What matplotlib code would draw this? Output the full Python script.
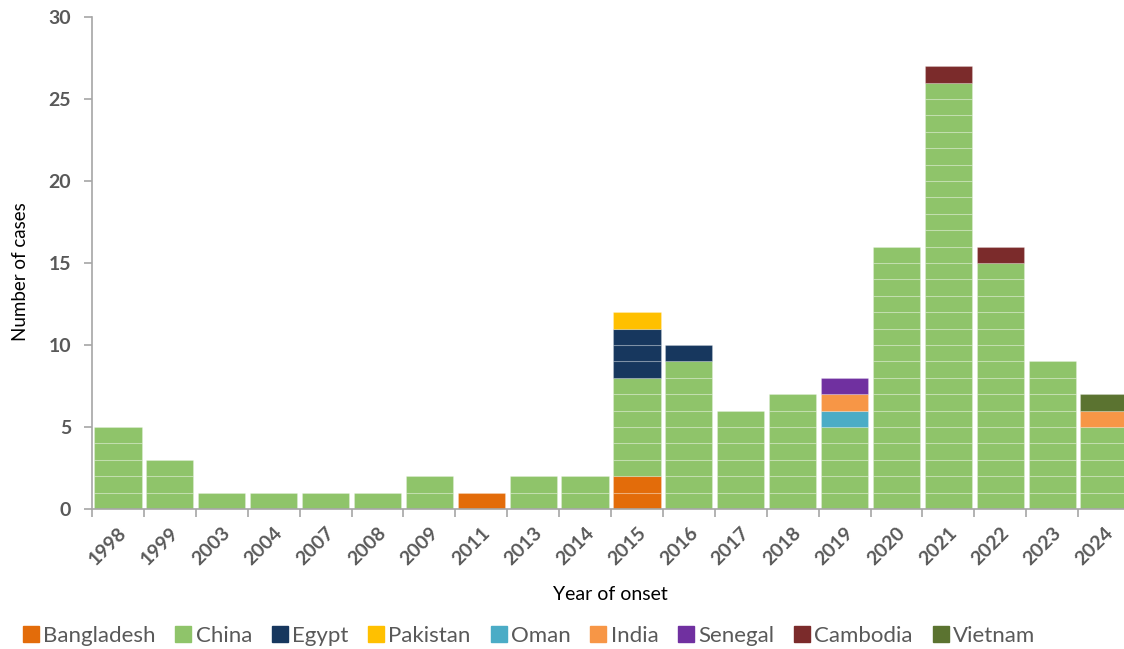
import numpy as np
import matplotlib
matplotlib.use('Agg')
import matplotlib.pyplot as plt
from matplotlib.lines import Line2D

plt.rcParams['font.family'] = ['Lato', 'DejaVu Sans']

# Data
years = ['1998', '1999', '2003', '2004', '2007', '2008', '2009', '2011', '2013', '2014',
         '2015', '2016', '2017', '2018', '2019', '2020', '2021', '2022', '2023', '2024']
countries = ['Bangladesh', 'China', 'Egypt', 'Pakistan', 'Oman', 'India', 'Senegal', 'Cambodia', 'Vietnam']
bangladesh = [0, 0, 0, 0, 0, 0, 0, 1, 0, 0, 2, 0, 0, 0, 0, 0, 0, 0, 0, 0]
china      = [5, 3, 1, 1, 1, 1, 2, 0, 2, 2, 6, 9, 6, 7, 5, 16, 26, 15, 9, 5]
egypt      = [0, 0, 0, 0, 0, 0, 0, 0, 0, 0, 3, 1, 0, 0, 0, 0, 0, 0, 0, 0]
pakistan   = [0, 0, 0, 0, 0, 0, 0, 0, 0, 0, 1, 0, 0, 0, 0, 0, 0, 0, 0, 0]
oman       = [0, 0, 0, 0, 0, 0, 0, 0, 0, 0, 0, 0, 0, 0, 1, 0, 0, 0, 0, 0]
india      = [0, 0, 0, 0, 0, 0, 0, 0, 0, 0, 0, 0, 0, 0, 1, 0, 0, 0, 0, 1]
senegal    = [0, 0, 0, 0, 0, 0, 0, 0, 0, 0, 0, 0, 0, 0, 1, 0, 0, 0, 0, 0]
cambodia   = [0, 0, 0, 0, 0, 0, 0, 0, 0, 0, 0, 0, 0, 0, 0, 0, 1, 1, 0, 0]
vietnam    = [0, 0, 0, 0, 0, 0, 0, 0, 0, 0, 0, 0, 0, 0, 0, 0, 0, 0, 0, 1]

series = [bangladesh, china, egypt, pakistan, oman, india, senegal, cambodia, vietnam]
colors = ['#E36C0A', '#8FC46A', '#17375E', '#FFC000', '#4BACC6', '#F79646', '#7030A0', '#7B2B2B', '#5B7330']

grey = '#595959'
axis_grey = '#A6A6A6'

fig = plt.figure(figsize=(11.24, 6.49), dpi=100)
ax = fig.add_axes([92 / 1124, 1 - 509 / 649, 1038 / 1124, 492 / 649])

x = np.arange(len(years))
bottom = np.zeros(len(years))
for vals, col in zip(series, colors):
    vals = np.array(vals)
    # draw each case as its own block so the thin separators show
    for i, v in enumerate(vals):
        for k in range(v):
            ax.bar(x[i], 1, bottom=bottom[i] + k, width=0.91, color=col,
                   edgecolor=(1, 1, 1, 0.22), linewidth=0.8)
    bottom += vals

ax.set_xlim(-0.5, len(years) - 0.5)
ax.set_ylim(0, 30)
ax.set_yticks(range(0, 31, 5))
ax.set_xticks(x - 0.5, minor=False)
ax.set_xticklabels([])
ax.set_xticks(x, minor=True)
ax.set_xticklabels(years, minor=True, rotation=45, ha='right', va='top',
                   rotation_mode='anchor', fontsize=14, fontweight='bold', color=grey)
ax.tick_params(axis='x', which='minor', length=0, pad=11)
ax.tick_params(axis='x', which='major', length=6, color=axis_grey, width=1.2)
ax.tick_params(axis='y', length=6, color=axis_grey, width=1.2, labelsize=14, labelcolor=grey, pad=9)
for lab in ax.get_yticklabels():
    lab.set_fontweight('bold')

for s in ['top', 'right']:
    ax.spines[s].set_visible(False)
for s in ['left', 'bottom']:
    ax.spines[s].set_color(axis_grey)
    ax.spines[s].set_linewidth(1.2)

fig.text(20 / 1124, 1 - 272 / 649, 'Number of cases', rotation=90, ha='center', va='center',
         fontsize=13.5, color='black')
fig.text(610 / 1124, 1 - 595 / 649, 'Year of onset', ha='center', va='center',
         fontsize=14, color='black')

handles = [Line2D([0], [0], marker='s', linestyle='none', markersize=11,
                  markerfacecolor=c, markeredgecolor=c) for c in colors]
fig.legend(handles, countries, loc='center', bbox_to_anchor=(528 / 1124, 1 - 636 / 649),
           ncol=len(countries), frameon=False, fontsize=16, labelcolor=grey,
           handletextpad=0.1, columnspacing=0.8, handlelength=0.9)

fig.savefig('out.png', dpi=100)
